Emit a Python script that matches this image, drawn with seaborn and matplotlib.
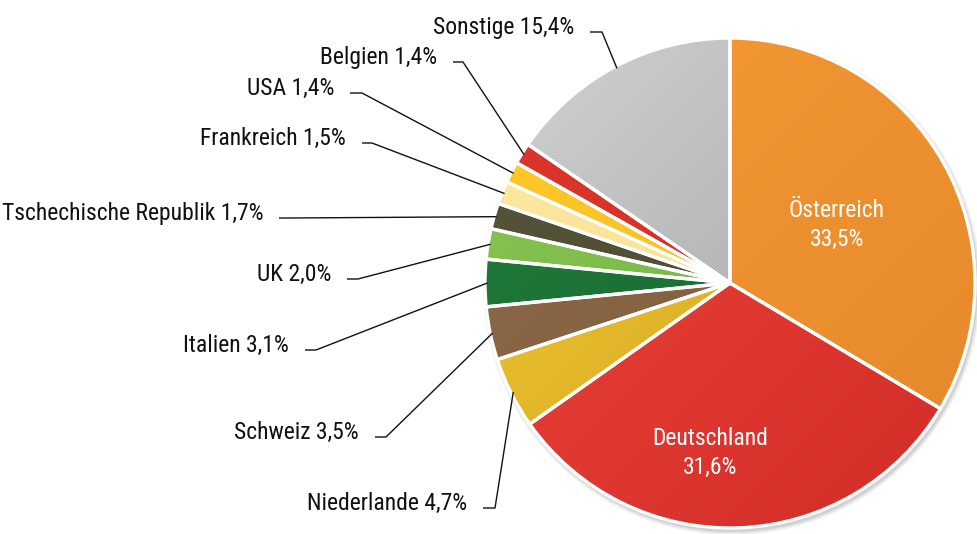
import matplotlib
matplotlib.use('Agg')
import matplotlib.pyplot as plt
import matplotlib.colors as mcolors
from matplotlib import font_manager as fm
from matplotlib.patches import Circle
import seaborn as sns
import numpy as np

# Anteile nach Herkunftsland (in %)
laender = ['Österreich', 'Deutschland', 'Niederlande', 'Schweiz', 'Italien', 'UK',
           'Tschechische Republik', 'Frankreich', 'USA', 'Belgien', 'Sonstige']
anteile = [33.5, 31.6, 4.7, 3.5, 3.1, 2.0, 1.7, 1.5, 1.4, 1.4, 15.4]

# Farbverlauf je Segment: (hell oben links, dunkel unten rechts)
farben = [('#f69b36', '#e4872a'), ('#ee463a', '#d22c29'), ('#f5ca2e', '#c99e25'),
          ('#8f6c4b', '#785839'), ('#217d3c', '#16622e'), ('#8bc653', '#69ad41'),
          ('#57563c', '#47462f'), ('#fde9a3', '#f8dc88'), ('#fec92b', '#f6b81f'),
          ('#dc372b', '#cf2c25'), ('#d2d3d3', '#979a9c')]

sns.set_theme(style='white')
# schmale Schrift, falls vorhanden
vorhanden = {f.name for f in fm.fontManager.ttflist}
schmal = [f for f in ['Roboto Condensed', 'Archivo Narrow', 'PT Sans Narrow',
                      'Liberation Sans Narrow', 'Barlow Semi Condensed']
          if f in vorhanden]
plt.rcParams['font.family'] = schmal + ['DejaVu Sans']
if not schmal:
    plt.rcParams['font.stretch'] = 'condensed'

W, H = 978, 534
cx, cy, R = 730, 283, 245

fig = plt.figure(figsize=(W / 100, H / 100), dpi=100)
ax = fig.add_axes([0, 0, 1, 1])

# weicher Schatten rechts unten
for i, a in enumerate([0.05, 0.06, 0.08]):
    ax.add_patch(Circle((cx + 2, cy + 3), R + 4 - i * 1.5, color='black', alpha=a,
                        lw=0, zorder=0))

wedges, _ = ax.pie(anteile, startangle=-90, counterclock=True, center=(cx, cy),
                   radius=R, wedgeprops=dict(edgecolor='white', linewidth=2.4),
                   frame=True)

# Farbverlauf in jedes Segment einsetzen
n = 200
gx, gy = np.meshgrid(np.linspace(0, 1, n), np.linspace(0, 1, n))
t = (gx + gy) / 2
for w, (c1, c2) in zip(wedges, farben):
    a1, a2 = np.array(mcolors.to_rgb(c1)), np.array(mcolors.to_rgb(c2))
    img = a1 + (a2 - a1) * t[..., None]
    im = ax.imshow(img, extent=(cx - R, cx + R, cy + R, cy - R), origin='upper',
                   zorder=1, interpolation='bilinear')
    im.set_clip_path(w)
    w.set_facecolor('none')
    w.set_zorder(2)

ax.set_xlim(0, W)
ax.set_ylim(H, 0)
ax.set_aspect('equal')
ax.axis('off')

# Beschriftungen innen
innen = {0: (837, 225), 1: (710, 453)}
for i, (x, y) in innen.items():
    txt = f'{laender[i]}\n{anteile[i]:.1f}%'.replace('.', ',')
    ax.text(x, y, txt, color='white', ha='center', va='center', fontsize=17,
            linespacing=1.3, zorder=5)

# Beschriftungen außen: Knick (x0, x1, y) der Führungslinie
knicke = {2: (483, 495, 508), 3: (375, 386, 437), 4: (305, 316, 350),
          5: (347, 358, 279), 6: (279, 290, 218), 7: (362, 372, 143),
          8: (350, 362, 93), 9: (453, 463, 62), 10: (590, 602, 32)}
for i, (x0, x1, y) in knicke.items():
    w = wedges[i]
    mid = np.deg2rad((w.theta1 + w.theta2) / 2)
    ex, ey = cx + R * 0.99 * np.cos(mid), cy + R * 0.99 * np.sin(mid)
    ax.plot([x0, x1, ex], [y, y, ey], color='#111111', lw=1.0, zorder=4,
            solid_capstyle='butt')
    txt = f'{laender[i]} {anteile[i]:.1f}%'.replace('.', ',')
    ax.text(x0 - 16, y + 2, txt, ha='right', va='baseline', fontsize=17,
            color='#111111')

fig.savefig('out.png', dpi=100, facecolor='white')
